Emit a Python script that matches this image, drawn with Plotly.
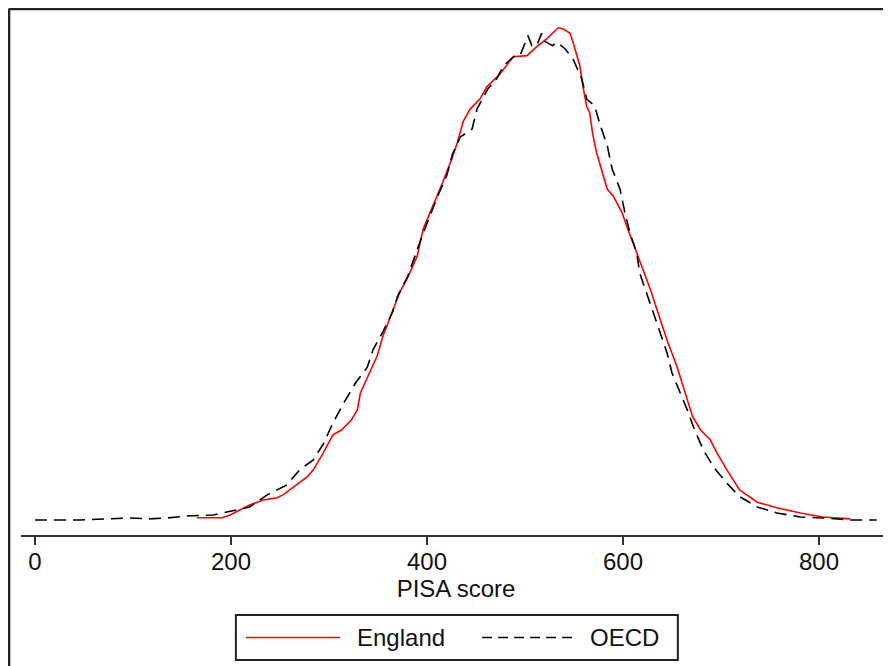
import plotly.graph_objects as go

# kernel density of PISA scores (density values in units of 1e-3)
england_score = [165, 191, 199, 219, 233, 247, 253, 267, 278, 284, 294, 304, 313, 323, 329, 332,
                 340, 349, 355, 364, 372, 381, 390, 396, 406, 416, 426, 431, 437, 444, 454, 461,
                 474, 488, 502, 512, 522, 534, 539, 546, 549, 556, 559, 563, 566, 569, 573, 579,
                 584, 590, 599, 605, 615, 628, 638, 646, 655, 665, 671, 679, 689, 696, 706, 719,
                 737, 757, 781, 804, 832]
england_density = [0.02, 0.02, 0.045, 0.135, 0.18, 0.20, 0.225, 0.315, 0.39, 0.45, 0.60, 0.765, 0.81,
                   0.90, 0.99, 1.14, 1.29, 1.47, 1.65, 1.86, 2.04, 2.19, 2.37, 2.61, 2.82, 3.03, 3.26,
                   3.39, 3.58, 3.69, 3.78, 3.89, 4.00, 4.16, 4.17, 4.25, 4.32, 4.42, 4.41, 4.37, 4.29,
                   4.08, 3.90, 3.71, 3.66, 3.47, 3.30, 3.12, 2.97, 2.91, 2.76, 2.61, 2.37, 2.07, 1.80,
                   1.59, 1.38, 1.11, 0.93, 0.81, 0.72, 0.60, 0.45, 0.27, 0.16, 0.11, 0.063, 0.027, 0.01]

oecd_score = [0, 46, 95, 117, 135, 155, 182, 199, 206, 219, 226, 237, 257, 270, 284, 294, 304, 314,
              327, 339, 345, 355, 365, 370, 380, 388, 395, 403, 411, 420, 426, 434, 446, 451, 462,
              471, 478, 490, 495, 503, 507, 512, 517, 520, 528, 533, 541, 549, 558, 563, 571, 577,
              584, 589, 597, 602, 607, 614, 617, 624, 631, 638, 645, 650, 656, 666, 673, 682, 692,
              706, 719, 737, 757, 781, 804, 832, 859]
oecd_density = [0.0, 0.0, 0.018, 0.01, 0.018, 0.036, 0.045, 0.072, 0.09, 0.117, 0.16, 0.225, 0.315,
                0.45, 0.54, 0.68, 0.87, 1.035, 1.23, 1.37, 1.53, 1.69, 1.87, 2.01, 2.18, 2.385, 2.55,
                2.73, 2.91, 3.09, 3.285, 3.44, 3.51, 3.69, 3.87, 3.96, 4.08, 4.17, 4.17, 4.35, 4.26,
                4.26, 4.37, 4.30, 4.26, 4.29, 4.23, 4.14, 3.96, 3.78, 3.72, 3.54, 3.36, 3.15, 2.97,
                2.76, 2.58, 2.40, 2.22, 2.04, 1.86, 1.68, 1.50, 1.32, 1.19, 0.98, 0.81, 0.63, 0.48,
                0.33, 0.21, 0.117, 0.063, 0.027, 0.018, 0.0, 0.0]

x_ticks = [0, 200, 400, 600, 800]

FONT = "Liberation Sans, Arial, sans-serif"

fig = go.Figure()
fig.add_trace(go.Scatter(x=england_score, y=england_density, mode="lines", name="England",
                         line=dict(color="#ff0000", width=1.6), showlegend=False))
fig.add_trace(go.Scatter(x=oecd_score, y=oecd_density, mode="lines", name="OECD",
                         line=dict(color="#000000", width=1.6, dash="12px,7px"), showlegend=False))

# the page body adds 8px around the figure, margins allow for it
fig.update_layout(
    width=891, height=666,
    margin=dict(l=13, r=8, t=12, b=139),
    plot_bgcolor="white", paper_bgcolor="white",
    font=dict(family=FONT, size=24, color="#111111"),
)
fig.update_xaxes(range=[-14.3, 873.5], tickvals=x_ticks, ticks="outside", ticklen=8, tickwidth=2,
                 tickcolor="#333333", showline=True, linewidth=2, linecolor="#333333",
                 showgrid=False, zeroline=False, tickfont=dict(size=24), ticklabelstandoff=-4,
                 title=dict(text="PISA score", font=dict(size=24), standoff=0))
fig.update_yaxes(range=[-0.135, 4.49], visible=False)

# outer frame (left and top edges visible in the picture)
fig.add_shape(type="line", xref="paper", yref="paper", x0=-0.014, x1=-0.014, y0=-0.3, y1=1.0218,
              line=dict(color="#222222", width=3))
fig.add_shape(type="line", xref="paper", yref="paper", x0=-0.014, x1=1.02, y0=1.0218, y1=1.0218,
              line=dict(color="#222222", width=3))

# legend box
fig.add_shape(type="rect", xref="paper", yref="paper", x0=0.247, x1=0.755, y0=-0.2427, y1=-0.1553,
              line=dict(color="#222222", width=2), fillcolor="white")
fig.add_shape(type="line", xref="paper", yref="paper", x0=0.2586, x1=0.3667, y0=-0.199, y1=-0.199,
              line=dict(color="#ff0000", width=1.6))
fig.add_shape(type="line", xref="paper", yref="paper", x0=0.530, x1=0.637, y0=-0.199, y1=-0.199,
              line=dict(color="#000000", width=1.6, dash="10px,6px"))
fig.add_annotation(xref="paper", yref="paper", x=0.384, y=-0.199, text="England", showarrow=False,
                   xanchor="left", yanchor="middle", font=dict(size=24))
fig.add_annotation(xref="paper", yref="paper", x=0.652, y=-0.199, text="OECD", showarrow=False,
                   xanchor="left", yanchor="middle", font=dict(size=24))

fig.write_html("out.html")
